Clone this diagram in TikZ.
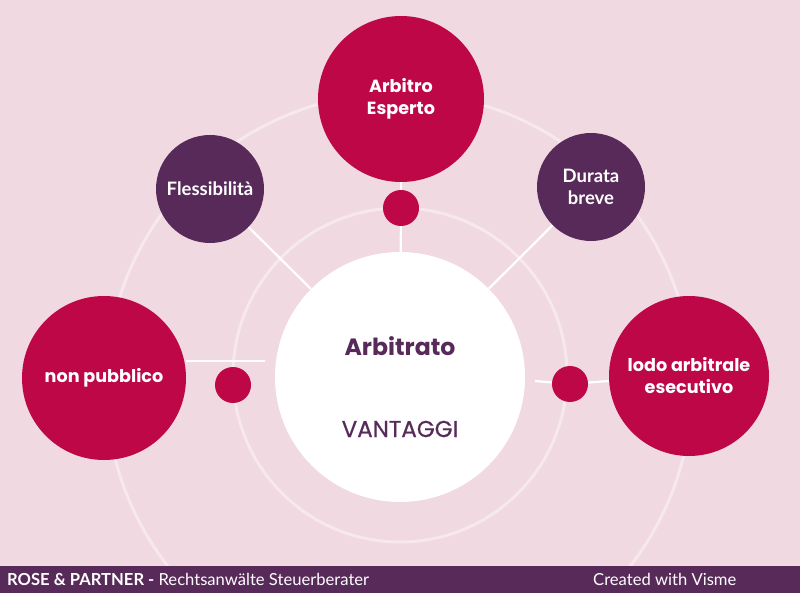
\documentclass[tikz,border=0pt]{standalone}
\usepackage{fontspec}
\setmainfont{Lato}
\newfontfamily\mont{Poppins}
\newfontfamily\montmed[FakeBold=0.6]{Poppins}
\definecolor{bg}{HTML}{F0D9E1}
\definecolor{ring}{HTML}{F6E8EE}
\definecolor{crim}{HTML}{BD0747}
\definecolor{purp}{HTML}{582A5A}
\begin{document}
\begin{tikzpicture}[x=1pt,y=-1pt,
  bubble/.style={circle,inner sep=0pt,align=center,text=white},
  red/.style={bubble,fill=crim},
  plum/.style={bubble,fill=purp},
  dot/.style={circle,inner sep=0pt,fill=crim,minimum size=36pt},
  link/.style={draw=white,line width=2.2pt},
  ringline/.style={draw=ring,line width=3pt},
  mtxt/.style={font=\mont\bfseries\fontsize{17.6}{22}\selectfont},
  ltxt/.style={font=\bfseries\fontsize{18.5}{22}\selectfont}
]
\fill[bg] (0,0) rectangle (800,593);
\useasboundingbox (0,0) rectangle (800,593);
% rings
\draw[ringline] (399,386) circle (293);
\draw[ringline] (400,375) circle (167);
% nodes
\node[circle,fill=white,inner sep=0pt,minimum size=250pt] (ctr) at (400,377) {};
\node[text=purp,font=\mont\bfseries\fontsize{23.6}{27}\selectfont] (t1) at (400,346) {Arbitrato};
\node[text=purp,font=\montmed\fontsize{23}{27}\selectfont] (t2) at (400,429) {VANTAGGI};
\node[red,minimum size=166pt,mtxt] (arb) at (401,99) {Arbitro\\Esperto};
\node[plum,minimum size=108pt,ltxt] (flex) at (210,189) {Flessibilità};
\node[plum,minimum size=108pt,ltxt] (dur) at (591,187) {Durata\\breve};
\node[red,minimum size=164pt,mtxt] (np) at (104,378) {non pubblico};
\node[red,minimum size=160pt,mtxt] (lodo) at (689,376) {lodo arbitrale\\esecutivo};
\node[dot] (d1) at (401,208) {};
\node[dot] (d2) at (233,385) {};
\node[dot] (d3) at (570,384) {};
% connectors
\coordinate (lend) at (265,361);
\coordinate (rend) at (535,381);
\draw[link] (arb) -- (d1);
\draw[link] (d1) -- (ctr);
\draw[link] (flex) -- (ctr);
\draw[link] (dur) -- (ctr);
\draw[link] (np.east |- lend) -- (lend);
\draw[link] (rend) -- (d3);
\draw[link] (d3) -- (lodo.west |- rend);
% footer
\fill[purp] (0,566) rectangle (800,593);
\node[anchor=base west,text=white,font=\fontsize{16.6}{18}\selectfont,inner sep=0pt] (f1) at (7,585) {\textbf{ROSE \& PARTNER -} Rechtsanwälte Steuerberater};
\node[anchor=base west,text=white,font=\fontsize{16.6}{18}\selectfont,inner sep=0pt] (f2) at (593,585) {Created with Visme};
\end{tikzpicture}
\end{document}
